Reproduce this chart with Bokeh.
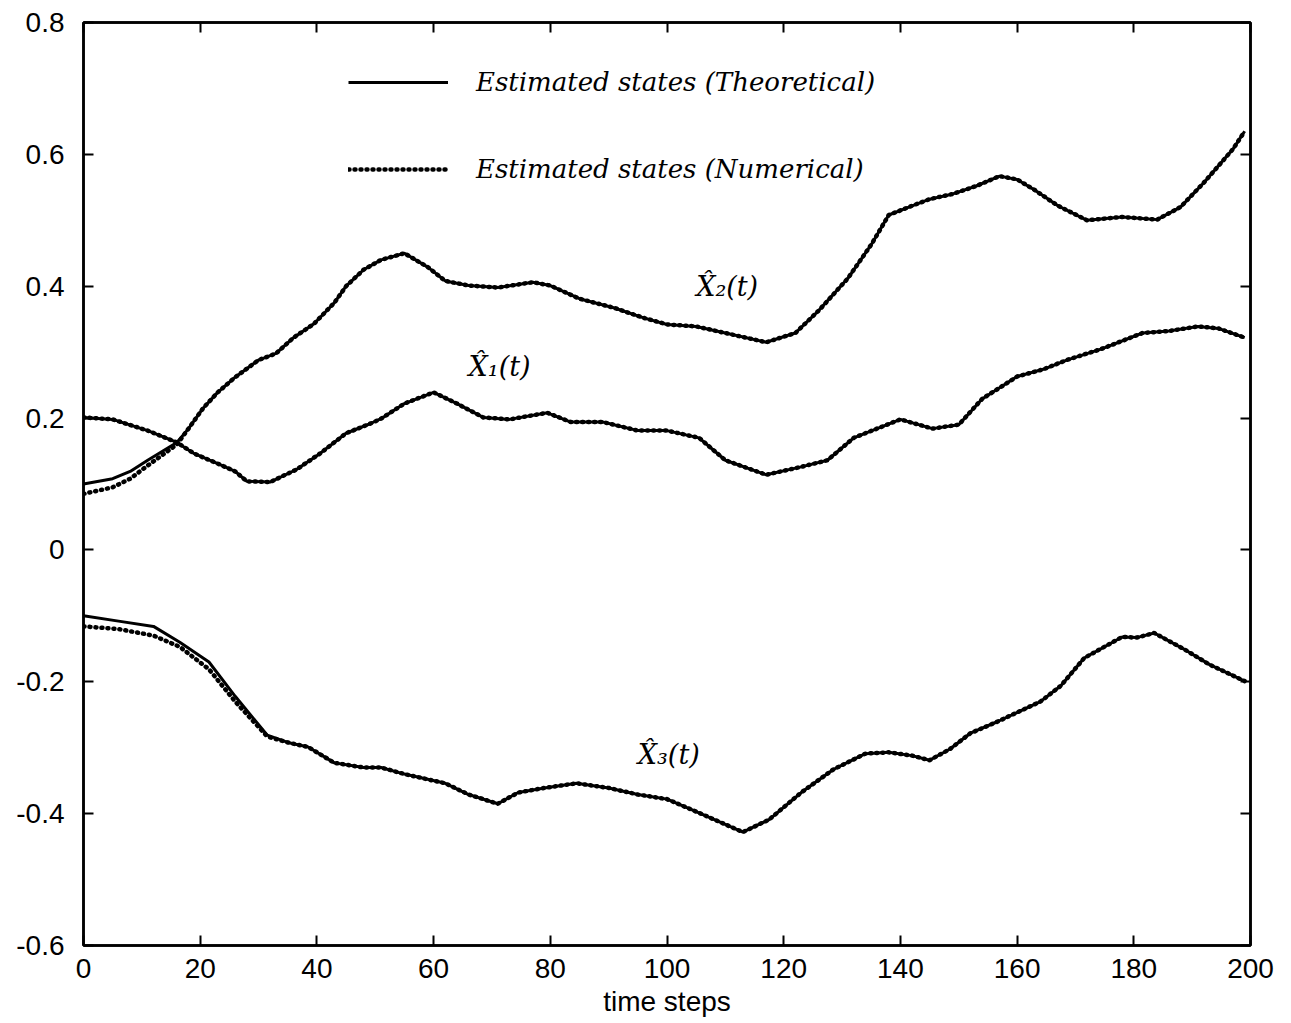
from bokeh.plotting import figure
from bokeh.models import LinearAxis, Legend, LegendItem, Label, Range1d, FixedTicker
from bokeh.embed import file_html
from bokeh.resources import INLINE

# ---- data ----
x_ticks = [0, 20, 40, 60, 80, 100, 120, 140, 160, 180, 200]
y_ticks = [-0.6, -0.4, -0.2, 0.0, 0.2, 0.4, 0.6, 0.8]
y_tick_labels = ["-0.6", "-0.4", "-0.2", "0", "0.2", "0.4", "0.6", "0.8"]

x2_t = [0, 5, 8, 11, 16, 18, 20.5, 23, 26, 30, 33, 36, 39.5, 43, 45, 48, 51, 55, 59, 62,
        66, 71, 77, 80, 85, 91, 96, 100, 105, 110, 117, 122, 126, 131, 135, 138, 142,
        145, 149, 153, 157, 160, 163, 167, 172, 178, 184, 188, 192, 197, 199]
x2_theo = [0.100, 0.108, 0.119, 0.136, 0.163, 0.184, 0.215, 0.239, 0.262, 0.288, 0.298,
           0.322, 0.343, 0.375, 0.400, 0.425, 0.440, 0.450, 0.429, 0.408, 0.401, 0.398,
           0.406, 0.401, 0.381, 0.367, 0.352, 0.342, 0.339, 0.329, 0.315, 0.329, 0.363,
           0.412, 0.463, 0.508, 0.522, 0.532, 0.540, 0.552, 0.567, 0.562, 0.546, 0.522,
           0.500, 0.505, 0.501, 0.520, 0.557, 0.608, 0.635]
x2_num = [0.085, 0.095, 0.108, 0.128, 0.160, 0.184, 0.215, 0.239, 0.262, 0.288, 0.298,
          0.322, 0.343, 0.375, 0.400, 0.425, 0.440, 0.450, 0.429, 0.408, 0.401, 0.398,
          0.406, 0.401, 0.381, 0.367, 0.352, 0.342, 0.339, 0.329, 0.315, 0.329, 0.363,
          0.412, 0.463, 0.508, 0.522, 0.532, 0.540, 0.552, 0.567, 0.562, 0.546, 0.522,
          0.500, 0.505, 0.501, 0.520, 0.557, 0.608, 0.635]

x1_t = [0, 5, 11, 16, 19, 23.5, 26, 28, 32, 36.5, 40.5, 45, 49, 51, 55, 60, 64, 68.5, 73,
        79.5, 83.5, 89, 95, 100, 105.5, 110, 117, 123, 127.5, 132, 140, 145.5, 150, 154,
        160, 164.5, 168.5, 174.5, 181.5, 186, 191, 194.5, 199]
x1_theo = [0.201, 0.198, 0.181, 0.163, 0.146, 0.129, 0.119, 0.104, 0.103, 0.122, 0.146,
           0.177, 0.191, 0.199, 0.222, 0.239, 0.222, 0.201, 0.198, 0.208, 0.194, 0.194,
           0.181, 0.181, 0.170, 0.136, 0.114, 0.126, 0.136, 0.170, 0.198, 0.184, 0.190,
           0.229, 0.263, 0.274, 0.288, 0.305, 0.329, 0.332, 0.339, 0.336, 0.322]
x1_num = [0.201, 0.198, 0.181, 0.163, 0.146, 0.129, 0.119, 0.104, 0.103, 0.122, 0.146,
          0.177, 0.191, 0.199, 0.222, 0.239, 0.222, 0.201, 0.198, 0.208, 0.194, 0.194,
          0.181, 0.181, 0.170, 0.136, 0.114, 0.126, 0.136, 0.170, 0.198, 0.184, 0.190,
          0.229, 0.263, 0.274, 0.288, 0.305, 0.329, 0.332, 0.339, 0.336, 0.322]

x3_t = [0, 6, 12, 16.5, 21.5, 26, 31.5, 35, 38.5, 43, 48, 51, 55, 62, 66, 71, 74.5, 79,
        84.5, 90, 95, 100, 104.5, 113, 117.5, 123, 128.5, 134, 138, 142, 145, 148.5, 152,
        156.5, 164, 167.5, 171.5, 178, 180.5, 183.5, 188.5, 193, 199]
x3_theo = [-0.100, -0.108, -0.116, -0.140, -0.170, -0.222, -0.281, -0.292, -0.299, -0.323,
           -0.330, -0.330, -0.340, -0.354, -0.371, -0.385, -0.368, -0.361, -0.354, -0.361,
           -0.371, -0.378, -0.395, -0.428, -0.409, -0.368, -0.333, -0.309, -0.307, -0.312,
           -0.319, -0.302, -0.278, -0.261, -0.230, -0.206, -0.164, -0.132, -0.133, -0.126,
           -0.150, -0.174, -0.199]
x3_num = [-0.116, -0.120, -0.130, -0.147, -0.181, -0.230, -0.283, -0.292, -0.299, -0.323,
          -0.330, -0.330, -0.340, -0.354, -0.371, -0.385, -0.368, -0.361, -0.354, -0.361,
          -0.371, -0.378, -0.395, -0.428, -0.409, -0.368, -0.333, -0.309, -0.307, -0.312,
          -0.319, -0.302, -0.278, -0.261, -0.230, -0.206, -0.164, -0.132, -0.133, -0.126,
          -0.150, -0.174, -0.199]

legend_labels = ["Estimated states (Theoretical)", "Estimated states (Numerical)"]
curve_labels = ["X\u0302\u2081(t)", "X\u0302\u2082(t)", "X\u0302\u2083(t)"]

# ---- figure ----
TICK_FONT = "Liberation Sans"
SERIF = "DejaVu Serif"

p = figure(frame_width=1167, frame_height=923,
           x_range=Range1d(0, 200), y_range=Range1d(-0.6, 0.8),
           output_backend="svg", toolbar_location=None,
           min_border_left=83, min_border_top=22, min_border_right=33, min_border_bottom=60,
           background_fill_color="white", border_fill_color="white")
p.grid.visible = False
p.outline_line_color = "black"
p.outline_line_width = 2.5

for ax in (p.xaxis[0], p.yaxis[0]):
    ax.axis_line_width = 2.5
    ax.major_tick_in = 10
    ax.major_tick_out = 0
    ax.major_tick_line_width = 2
    ax.minor_tick_line_color = None
    ax.major_label_text_font = TICK_FONT
    ax.major_label_text_font_size = "28px"
    ax.major_label_text_color = "black"

p.xaxis.ticker = FixedTicker(ticks=x_ticks)
p.yaxis.ticker = FixedTicker(ticks=y_ticks)
p.yaxis.major_label_overrides = {v: s for v, s in zip(y_ticks, y_tick_labels)}
p.xaxis.major_label_standoff = 13
p.yaxis.major_label_standoff = 19
p.xaxis.axis_label = "time steps"
p.xaxis.axis_label_text_font = TICK_FONT
p.xaxis.axis_label_text_font_size = "28px"
p.xaxis.axis_label_text_font_style = "normal"
p.xaxis.axis_label_text_color = "black"
p.xaxis.axis_label_standoff = 5

top = LinearAxis(ticker=FixedTicker(ticks=x_ticks), major_tick_in=10, major_tick_out=0,
                 major_tick_line_width=2, minor_tick_line_color=None, axis_line_width=2.5,
                 major_label_text_font_size="1px", major_label_text_color=None,
                 major_label_standoff=0)
right = LinearAxis(ticker=FixedTicker(ticks=y_ticks), major_tick_in=10, major_tick_out=0,
                   major_tick_line_width=2, minor_tick_line_color=None, axis_line_width=2.5,
                   major_label_text_font_size="1px", major_label_text_color=None,
                   major_label_standoff=0)
p.add_layout(top, "above")
p.add_layout(right, "right")

theo_kw = dict(line_color="black", line_width=3)
num_kw = dict(line_color="black", line_width=4.5, line_dash="1 5", line_cap="round")

r1 = p.line(x2_t, x2_theo, **theo_kw)
r2 = p.line(x2_t, x2_num, **num_kw)
p.line(x1_t, x1_theo, **theo_kw)
p.line(x1_t, x1_num, **num_kw)
p.line(x3_t, x3_theo, **theo_kw)
p.line(x3_t, x3_num, **num_kw)

legend = Legend(items=[LegendItem(label=legend_labels[0], renderers=[r1]),
                       LegendItem(label=legend_labels[1], renderers=[r2])],
                location=(265, 761), orientation="vertical",
                glyph_width=100, glyph_height=20, label_height=20, spacing=57,
                label_standoff=28, padding=0, margin=0,
                border_line_alpha=0, background_fill_alpha=0,
                label_text_font=SERIF, label_text_font_style="italic",
                label_text_font_size="26px", label_text_color="black")
p.add_layout(legend, "center")

label_pos = [(66.0, 0.278), (105.0, 0.40), (95.0, -0.31)]
for (lx, ly), txt in zip(label_pos, curve_labels):
    p.add_layout(Label(x=lx, y=ly, text=txt, text_font=SERIF, text_font_style="italic",
                       text_font_size="27px", text_baseline="middle", text_color="black"))

open("out.html", "w").write(file_html(p, INLINE))
